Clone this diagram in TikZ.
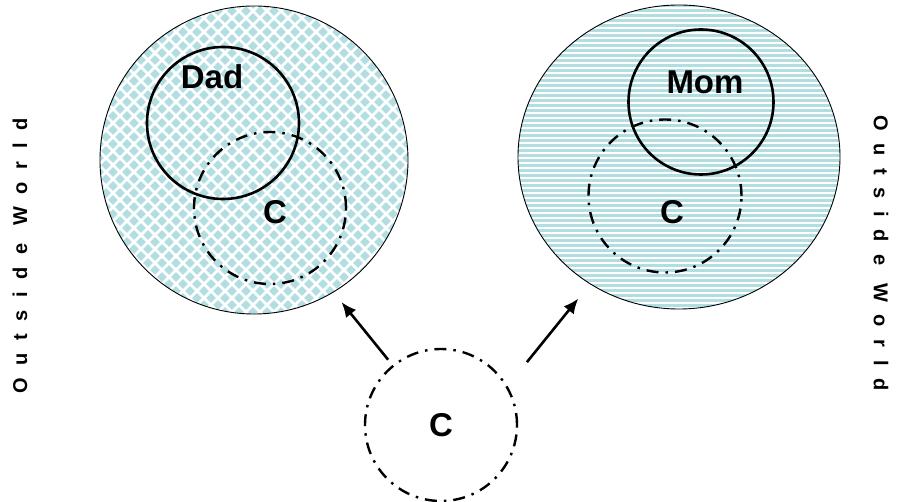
\documentclass[tikz,border=0pt]{standalone}
\usepackage{fontspec}
\setmainfont{Liberation Sans}
\newfontfamily\spacedfont[LetterSpace=63]{Liberation Sans}
\usetikzlibrary{arrows.meta,shapes.geometric}

\definecolor{paleteal}{RGB}{178,222,226}

\begin{document}
\begin{tikzpicture}[
x=1pt,y=-1pt,
world/.style={draw=black,line width=0.9pt,inner sep=0pt,outer sep=0pt},
parentring/.style={circle,draw=black,line width=2.6pt,inner sep=0pt,outer sep=0pt},
kidring/.style={circle,draw=black,line width=2.4pt,
  dash pattern=on 12pt off 7pt on 2.5pt off 7pt,inner sep=0pt,outer sep=0pt},
tag/.style={font=\bfseries\fontsize{33}{36}\selectfont},
sidetag/.style={font=\spacedfont\bfseries\fontsize{20}{22}\selectfont},
arrow/.style={-{Latex[length=15pt,width=13pt]},line width=2.6pt}
]
\useasboundingbox (0,0) rectangle (898,502);

% diamond tiling of the left home
\begin{scope}
\clip (254,160) circle[radius=154];
\foreach \row in {0,...,45}
  \foreach \col in {0,...,23}
    \fill[paleteal] ({99+\col*14+mod(\row,2)*7},{4+\row*7})
      +(0,-4.9) -- +(4.9,0) -- +(0,4.9) -- +(-4.9,0) -- cycle;
\end{scope}

% stripes of the right home
\begin{scope}
\clip (679,157) ellipse[x radius=161,y radius=152];
\foreach \k in {0,...,62}
  \fill[paleteal] (517,{4+\k*5}) rectangle (842,{7+\k*5});
\end{scope}

% left home
\node[world,circle,minimum size=308pt] (dadworld) at (254,160) {};
\node[parentring,minimum size=152pt] (dad) at (223,123) {};
\node[kidring,minimum size=152pt] (cdad) at (270,208) {};
\node[tag] (dadlabel) at (212,77) {Dad};
\node[tag] (cdadlabel) at (275,212) {C};

% right home
\node[world,ellipse,minimum width=322pt,minimum height=304pt] (momworld) at (679,157) {};
\node[parentring,minimum size=145pt] (mom) at (701,102) {};
\node[kidring,minimum size=153pt] (cmom) at (665,196) {};
\node[tag] (momlabel) at (705,82) {Mom};
\node[tag] (cmomlabel) at (672,212) {C};

% the child between both
\node[kidring,minimum size=152pt,tag] (c) at (441,425) {C};
\draw[arrow,shorten <=8pt,shorten >=13pt] (c.129) -- (dadworld.301);
\draw[arrow,shorten <=32pt,shorten >=19pt] (c.30) -- (momworld.235);

\node[sidetag,rotate=90] (leftside) at (20,256) {Outside World};
\node[sidetag,rotate=-90] (rightside) at (881,253) {Outside World};
\end{tikzpicture}
\end{document}
